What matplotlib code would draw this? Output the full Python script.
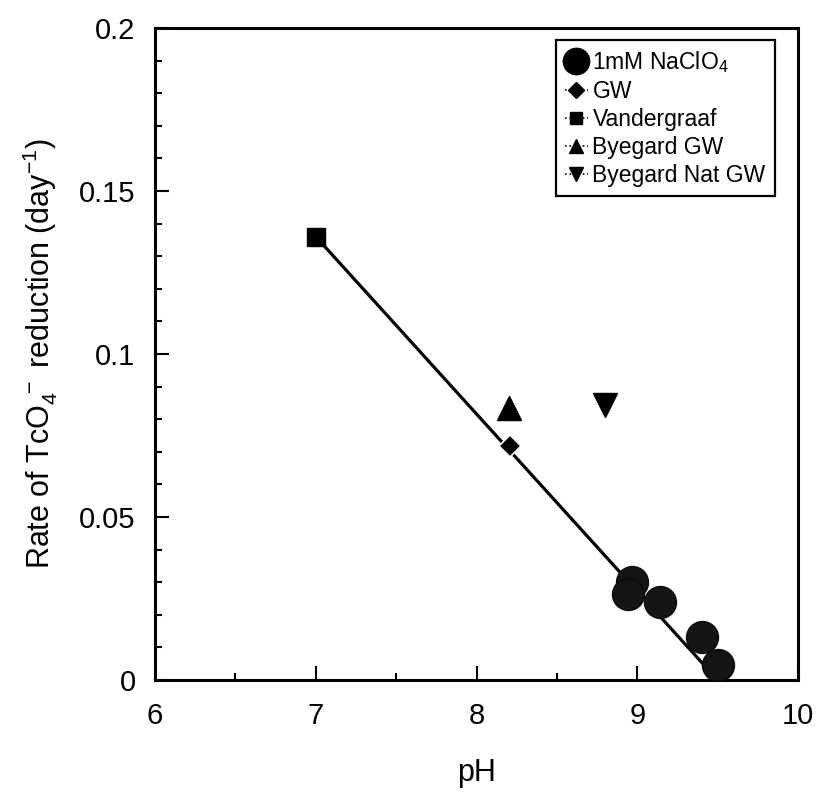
import matplotlib
matplotlib.use("Agg")
import matplotlib.pyplot as plt
from matplotlib.lines import Line2D
from matplotlib.ticker import MultipleLocator

plt.rcParams["font.family"] = ["Liberation Sans", "DejaVu Sans"]
plt.rcParams["mathtext.default"] = "regular"

# -----------------------------------------------------
# Data: TcO4- reduction rate vs pH
# -----------------------------------------------------

naclo4_ph = [8.97, 8.94, 9.14, 9.40, 9.50]
naclo4_rate = [0.030, 0.0265, 0.024, 0.0132, 0.0045]

gw_ph = [8.21]
gw_rate = [0.0718]

vandergraaf_ph = [7.0]
vandergraaf_rate = [0.136]

byegard_ph = [8.2]
byegard_rate = [0.0834]

byegard_nat_ph = [8.80]
byegard_nat_rate = [0.0844]

# linear fit line
fit_ph = [7.0, 9.5]
fit_rate = [0.136, 0.0]

# -----------------------------------------------------
# Plot
# -----------------------------------------------------

fig = plt.figure(figsize=(8.22, 7.93), dpi=100)
ax = fig.add_axes([0.1886, 0.1425, 0.7822, 0.8222])

ax.plot(fit_ph, fit_rate, color="black", lw=2.3, zorder=2)

ax.plot(naclo4_ph, naclo4_rate, "o", ms=23, color="#151515", mec="#0a0a0a", zorder=3)
ax.plot(gw_ph, gw_rate, "D", ms=11, color="black", mec="white", mew=1.2, zorder=3)
ax.plot(vandergraaf_ph, vandergraaf_rate, "s", ms=13, color="black", zorder=3)
ax.plot(byegard_ph, byegard_rate, "^", ms=17, color="black", zorder=3)
ax.plot(byegard_nat_ph, byegard_nat_rate, "v", ms=17, color="black", zorder=3)

ax.set_xlim(6, 10)
ax.set_ylim(0, 0.2)
ax.xaxis.set_major_locator(MultipleLocator(1))
ax.xaxis.set_minor_locator(MultipleLocator(0.5))
ax.yaxis.set_minor_locator(MultipleLocator(0.01))
ax.set_yticks([0, 0.05, 0.1, 0.15, 0.2])
ax.set_yticklabels(["0", "0.05", "0.1", "0.15", "0.2"])

ax.tick_params(which="both", direction="in", top=False, right=False,
               labelsize=21, width=1.5)
ax.tick_params(which="major", length=10, pad=10)
ax.tick_params(which="minor", length=5)
ax.tick_params(axis="x", which="major", pad=16)
ax.tick_params(axis="y", which="major", pad=14)

for spine in ax.spines.values():
    spine.set_linewidth(2.2)

ax.set_xlabel("pH", fontsize=22, labelpad=20)
ax.set_ylabel("Rate of TcO$_4^{\\ -}$ reduction (day$^{-1}$)", fontsize=22, labelpad=14)

# legend with dotted handle lines
def handle(marker, ms):
    return Line2D([], [], color="black", ls=":", lw=1.2, marker=marker,
                  ms=ms, mfc="black", mec="black")

handles = [handle("o", 19), handle("D", 8), handle("s", 8),
           handle("^", 10), handle("v", 10)]
labels = ["1mM NaClO$_4$", "GW", "Vandergraaf", "Byegard GW", "Byegard Nat GW"]
leg = ax.legend(handles, labels, loc="upper right", bbox_to_anchor=(0.964, 0.982),
                borderaxespad=0, fontsize=16.5, handlelength=1.0, handletextpad=0.2,
                labelspacing=0.22, borderpad=0.4, fancybox=False,
                edgecolor="black", framealpha=1)
leg.get_frame().set_linewidth(1.6)

plt.savefig("out.png", dpi=100)
plt.close()
